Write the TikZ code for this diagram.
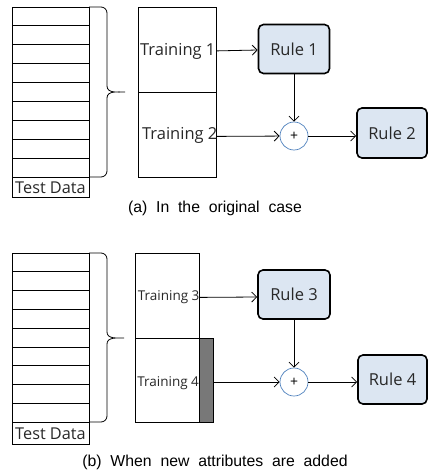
\documentclass[tikz,border=0pt]{standalone}
\usepackage{fontspec}
\setmainfont{Open Sans}
\newfontfamily\capfont{Liberation Sans}
\usetikzlibrary{arrows.meta}
\definecolor{rulefill}{RGB}{220,230,242}
\definecolor{plusblue}{RGB}{79,129,189}
\definecolor{barfill}{RGB}{120,120,120}
\definecolor{txt}{RGB}{40,40,40}
\begin{document}
\begin{tikzpicture}[x=1pt,y=-1pt,line width=0.8pt,
  rulebox/.style={draw,line width=1.6pt,rounded corners=5pt,fill=rulefill,
    inner sep=0pt,text=txt,font=\fontsize{16.5}{16.5}\selectfont},
  trainbox/.style={draw,inner sep=0pt,anchor=north west},
  plusnode/.style={draw=plusblue,circle,line width=0.7pt,minimum size=28pt,
    inner sep=0pt,font=\fontsize{14}{14}\selectfont},
  conn/.style={-{Straight Barb[length=5pt,width=10pt]},line width=0.8pt},
  caption/.style={font=\capfont\fontsize{15.8}{15.8}\selectfont},
  tlabel/.style={anchor=east,inner sep=0pt,text=txt,font=\fontsize{16.5}{16.5}\selectfont},
  tlabelsmall/.style={anchor=east,inner sep=0pt,text=txt,font=\fontsize{13.5}{13.5}\selectfont},
  tdlabel/.style={font=\fontsize{16.3}{16.3}\selectfont,inner sep=0pt,text=txt}]
\useasboundingbox (0,0) rectangle (428,473);
% ---------- (a) ----------
\draw (12,7) rectangle (89,197);
\foreach \k in {1,...,9} \draw (12,{7+\k*18.89}) -- (89,{7+\k*18.89});
\node[tdlabel] (tda) at (50.5,187.5) {Test Data};
\draw (89,7) -- (101,7) to[out=0,in=90] (107,13) -- (107,86)
  to[out=-90,in=180] (125,92) to[out=180,in=90] (107,98) -- (107,171)
  to[out=-90,in=0] (101,177) -- (89,177);
\node[trainbox,minimum width=78pt,minimum height=85pt] (t1) at (138,7) {};
\node[trainbox,minimum width=78pt,minimum height=85pt] (t2) at (138,92) {};
\node[tlabel] (t1l) at ([yshift=-2pt,xshift=-1pt]t1.east) {Training 1};
\node[tlabel] (t2l) at ([yshift=-1pt,xshift=1pt]t2.east) {Training 2};
\node[rulebox,minimum width=71pt,minimum height=49pt] (r1) at (294,49) {Rule 1};
\node[rulebox,minimum width=70pt,minimum height=50pt] (r2) at (392,133) {Rule 2};
\node[plusnode] (p1) at (294,136) {+};
\draw[conn] ([yshift=-1pt]t1.east) -- (r1.west |- 0,50);
\draw[conn] (r1) -- (p1);
\draw[conn] ([yshift=-1.5pt]t2.east) -- (p1);
\draw[conn] (p1) -- (r2.west |- p1);
\node[caption] (capa) at (215,208) {(a)\ \ In\ \ the\ \ original\ \ case};
% ---------- (b) ----------
\draw (12,253) rectangle (89,444);
\foreach \k in {1,...,9} \draw (12,{253+\k*18.78}) -- (89,{253+\k*18.78});
\node[tdlabel] (tdb) at (50.5,433.5) {Test Data};
\draw (89,253) -- (101,253) to[out=0,in=90] (107,259) -- (107,332)
  to[out=-90,in=180] (124,338) to[out=180,in=90] (107,344) -- (107,416)
  to[out=-90,in=0] (101,422) -- (89,422);
\node[trainbox,minimum width=64pt,minimum height=85pt] (t3) at (135,253) {};
\node[trainbox,minimum width=64pt,minimum height=84pt] (t4) at (135,338) {};
\node[trainbox,minimum width=14pt,minimum height=84pt,fill=barfill] (g4) at (199,338) {};
\node[tlabelsmall] (t3l) at ([yshift=-1pt]t3.east) {Training 3};
\node[tlabelsmall] (t4l) at ([yshift=-3pt,xshift=-0.5pt]t4.east) {Training 4};
\node[rulebox,minimum width=72pt,minimum height=49pt] (r3) at (294,294.5) {Rule 3};
\node[rulebox,minimum width=69pt,minimum height=49pt] (r4) at (392.5,379.5) {Rule 4};
\node[plusnode] (p2) at (294,382) {+};
\draw[conn] ([yshift=-1.5pt]t3.east) -- (r3.west |- 0,297);
\draw[conn] (r3) -- (p2);
\draw[conn] (g4.east |- p2) -- (p2);
\draw[conn] (p2) -- (r4.west |- p2);
\node[caption] (capb) at (215,462) {(b)\ \ When\ \ new\ \ attributes\ \ are\ \ added};
\end{tikzpicture}
\end{document}
